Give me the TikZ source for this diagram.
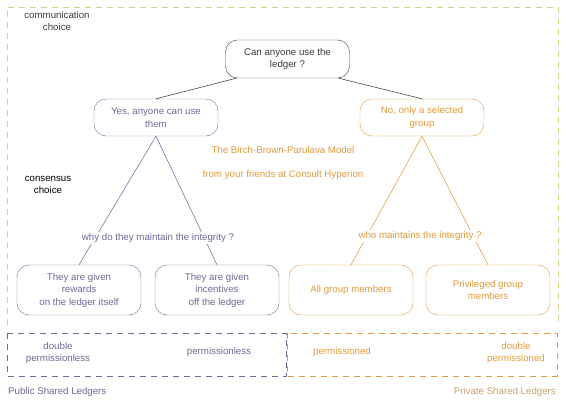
\documentclass[tikz,border=0pt]{standalone}
\usepackage{fontspec}
\setmainfont{Liberation Sans}
\definecolor{bluegray}{HTML}{6C6C9C}
\definecolor{bluetxt}{HTML}{6A6A98}
\definecolor{orng}{HTML}{E39A3B}
\definecolor{yel}{HTML}{D8CF88}
\definecolor{dkgray}{HTML}{3A3A3A}
\definecolor{privtxt}{HTML}{C8A070}
\begin{document}
\begin{tikzpicture}[x=1pt,y=-1pt,
  txt/.style={font=\fontsize{9.7}{12.5}\selectfont, align=center, inner sep=1pt},
  box/.style={txt, draw, rounded corners=12pt, minimum width=124pt, inner sep=2pt},
  bluebox/.style={box, draw=bluegray, text=bluetxt},
  orbox/.style={box, draw=orng, text=orng},
  dsh/.style={dash pattern=on 6pt off 5pt, line width=0.7pt},
  conn/.style={line width=0.55pt}
]
\useasboundingbox (0,0) rectangle (566,402);

% outer frame (open at bottom)
\draw[dsh, yel] (7,325) -- (7,7) -- (558,7) -- (558,325);

% bottom ledger boxes
\draw[dsh, bluegray] (7,333) rectangle (286,376);
\draw[dsh, orng] (287,333) rectangle (557,376);

% nodes
\node[box, draw=dkgray, text=dkgray, minimum height=38pt] (q) at (287.5,59) {Can anyone use the\\ledger ?};
\node[bluebox, minimum height=37pt] (yes) at (156,117.5) {Yes, anyone can use\\them};
\node[orbox, minimum height=37pt] (no) at (422,117.5) {No, only a selected\\group};

\node[bluebox, minimum height=50pt] (r1) at (79,290) {They are given\\rewards\\on the ledger itself};
\node[bluebox, minimum height=50pt] (r2) at (217,290) {They are given\\incentives\\off the ledger};
\node[orbox, minimum height=50pt] (a1) at (351,290) {All group members};
\node[orbox, minimum height=50pt] (a2) at (488,290) {Privileged group\\members};

% connectors from question
\draw[conn, dkgray] ([xshift=11pt]q.south west) -- (yes.north);
\draw[conn, dkgray] ([xshift=-11pt]q.south east) -- (no.north);

% triangles
\draw[conn, bluegray] (r1.north) -- (yes.south) -- (r2.north);
\draw[conn, orng] (a1.north) -- (no.south) -- (a2.north);

% triangle labels
\node[txt, fill=white, text=bluetxt] (why) at (158,238) {why do they maintain the integrity ?};
\node[txt, fill=white, text=orng] (who) at (420,236) {who maintains the integrity ?};

% titles
\node[txt, text=orng] (title) at (283,150) {The Birch-Brown-Parulava Model};
\node[txt, text=orng] (sub) at (283,175) {from your friends at Consult Hyperion};

% side labels
\node[txt, text=dkgray] (comm) at (57,21) {communication\\choice};
\node[txt, text=black] (cons) at (48,185) {consensus\\choice};

% bottom labels
\node[txt, text=bluetxt] (dpl) at (58,353) {double\\permissionless};
\node[txt, text=bluetxt] (pl) at (219,352) {permissionless};
\node[txt, text=orng] (pd) at (342,352) {permissioned};
\node[txt, text=orng] (dpd) at (516,353) {double\\permissioned};

\node[txt, text=bluetxt, anchor=west] (pub) at (7,392) {Public Shared Ledgers};
\node[txt, text=privtxt, anchor=east] (priv) at (557,392) {Private Shared Ledgers};
\end{tikzpicture}
\end{document}
